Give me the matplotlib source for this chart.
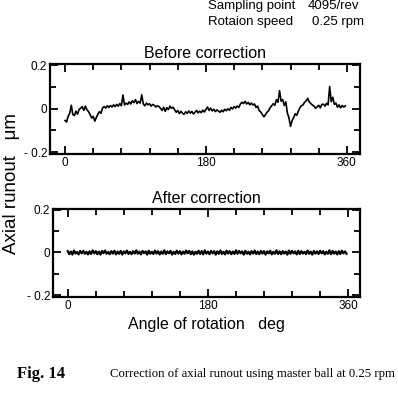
#! /usr/bin/env python3
#
import matplotlib
matplotlib.use('Agg')
import matplotlib.pyplot as plt
import numpy as np
from matplotlib.ticker import FixedLocator

#  Angle of rotation, deg (sampled every 2 deg for the drawing)
angle = np.arange(0, 360, 2)

#  Axial runout before correction, um
runout_before = [
    -0.055, -0.062, -0.035, -0.022, 0.015, -0.028, -0.032, -0.012, -0.026, -0.004,
    0.002, 0.009, -0.008, 0.011, -0.006, -0.014, -0.028, -0.044, -0.036, -0.058,
    -0.041, -0.026, -0.014, -0.022, 0.003, 0.009, 0.002, 0.013, 0.005, 0.014,
    0.007, 0.017, 0.009, 0.019, 0.011, 0.023, 0.013, 0.062, 0.016, 0.025,
    0.019, 0.031, 0.021, 0.036, 0.027, 0.041, 0.023, 0.033, 0.025, 0.063,
    0.021, 0.013, 0.025, 0.017, 0.022, 0.011, 0.019, 0.015, 0.007, 0.013,
    0.009, 0.001, -0.009, 0.006, -0.013, 0.004, -0.005, 0.011, 0.001, 0.006,
    -0.006, -0.017, -0.009, -0.023, -0.013, -0.021, -0.027, -0.015, -0.022, -0.011,
    -0.021, -0.013, -0.025, -0.017, -0.009, -0.020, -0.012, -0.019, -0.007, -0.016,
    -0.004, 0.007, -0.009, 0.002, -0.011, -0.003, -0.014, -0.006, -0.012, -0.017,
    -0.008, -0.015, -0.003, -0.010, -0.001, -0.008, 0.005, -0.002, 0.009, 0.002,
    0.012, 0.005, 0.021, 0.029, 0.023, 0.033, 0.021, 0.028, 0.017, 0.025,
    0.016, 0.021, 0.005, 0.011, -0.009, -0.016, -0.027, -0.038, -0.028, -0.017,
    -0.010, 0.004, 0.013, 0.022, 0.015, 0.041, 0.029, 0.082, 0.034, 0.041,
    0.014, 0.031, -0.021, -0.042, -0.082, -0.056, -0.041, -0.024, -0.031, -0.012,
    0.004, 0.013, 0.017, 0.029, 0.035, 0.047, 0.030, 0.023, 0.016, 0.011,
    0.001, 0.008, 0.015, 0.003, 0.019, 0.020, 0.011, 0.024, 0.017, 0.101,
    0.031, 0.052, 0.019, 0.025, 0.006, 0.017, 0.003, 0.014, 0.007, 0.012,
]

#  Axial runout after correction, um
runout_after = [
    0.006, -0.008, 0.004, -0.010, 0.009, -0.005, 0.002, -0.009, 0.007, -0.004,
    0.008, -0.006, 0.003, -0.009, 0.005, -0.007, 0.010, -0.004, 0.006, -0.008,
    0.004, -0.010, 0.007, -0.003, 0.009, -0.006, 0.002, -0.008, 0.006, -0.005,
    0.008, -0.009, 0.004, -0.006, 0.007, -0.010, 0.005, -0.004, 0.009, -0.007,
    0.003, -0.008, 0.006, -0.005, 0.010, -0.006, 0.004, -0.009, 0.007, -0.003,
    0.005, -0.010, 0.008, -0.006, 0.003, -0.007, 0.009, -0.005, 0.006, -0.009,
    0.004, -0.006, 0.010, -0.008, 0.005, -0.004, 0.007, -0.010, 0.003, -0.007,
    0.008, -0.005, 0.006, -0.009, 0.004, -0.006, 0.009, -0.004, 0.007, -0.008,
    0.005, -0.010, 0.003, -0.006, 0.008, -0.007, 0.006, -0.009, 0.010, -0.005,
    0.004, -0.008, 0.007, -0.004, 0.006, -0.010, 0.005, -0.006, 0.009, -0.007,
    0.003, -0.009, 0.008, -0.005, 0.006, -0.008, 0.004, -0.007, 0.010, -0.006,
    0.007, -0.004, 0.005, -0.010, 0.008, -0.006, 0.003, -0.009, 0.006, -0.005,
    0.009, -0.007, 0.004, -0.008, 0.007, -0.005, 0.006, -0.010, 0.005, -0.004,
    0.008, -0.009, 0.003, -0.006, 0.010, -0.007, 0.005, -0.008, 0.006, -0.005,
    0.004, -0.010, 0.009, -0.006, 0.007, -0.004, 0.005, -0.009, 0.008, -0.007,
    0.006, -0.005, 0.003, -0.008, 0.009, -0.006, 0.004, -0.010, 0.007, -0.005,
    0.005, -0.007, 0.008, -0.004, 0.006, -0.009, 0.003, -0.006, 0.010, -0.008,
    0.007, -0.005, 0.004, -0.009, 0.006, -0.007, 0.008, -0.004, 0.005, -0.006,
]

x_ticks = [0, 180, 360]
x_tick_labels = ['0', '180', '360']
y_ticks = [-0.2, 0, 0.2]
y_tick_labels = ['- 0.2', '0', '0.2']


def style_axes(ax, xlim):
    ax.set_xlim(*xlim)
    ax.set_ylim(-0.209, 0.205)
    ax.xaxis.set_major_locator(FixedLocator(x_ticks))
    ax.xaxis.set_minor_locator(FixedLocator(np.arange(36, 360, 36)))
    ax.yaxis.set_major_locator(FixedLocator(y_ticks))
    ax.yaxis.set_minor_locator(FixedLocator([-0.1, 0.1]))
    ax.set_xticklabels(x_tick_labels)
    ax.set_yticklabels(y_tick_labels)
    ax.tick_params(which='both', direction='in', top=True, right=True,
                   width=1.3, labelsize=8.5, pad=2)
    ax.tick_params(which='major', length=6)
    ax.tick_params(which='minor', length=4)
    for s in ax.spines.values():
        s.set_linewidth(1.6)


plt.rcParams['font.family'] = ['Liberation Sans', 'DejaVu Sans']

fig = plt.figure(figsize=(3.98, 3.97), dpi=100)

ax1 = fig.add_axes([0.126, 0.612, 0.779, 0.227])
ax1.plot(angle, runout_before, color='black', lw=1.2)
style_axes(ax1, (-19, 377))
ax1.set_title('Before correction', fontsize=11.5, pad=4)

ax2 = fig.add_axes([0.133, 0.252, 0.771, 0.222])
ax2.plot(angle, runout_after, color='black', lw=1.6)
style_axes(ax2, (-19, 375))
ax2.set_title('After correction', fontsize=11.5, pad=4)
ax2.set_xlabel('Angle of rotation   deg', fontsize=11.5, labelpad=4)

fig.text(0.03, 0.539, 'Axial runout   \u03bcm', rotation=90, fontsize=13.5,
         ha='center', va='center')

fig.text(0.523, 0.985, 'Sampling point', fontsize=9.5, ha='left', va='center')
fig.text(0.774, 0.985, '4095/rev', fontsize=9.5, ha='left', va='center')
fig.text(0.523, 0.945, 'Rotaion speed', fontsize=9.5, ha='left', va='center')
fig.text(0.784, 0.945, '0.25 rpm', fontsize=9.5, ha='left', va='center')

fig.text(0.043, 0.058, 'Fig. 14', fontsize=12, fontweight='bold', ha='left',
         va='center', family='Liberation Serif')
fig.text(0.277, 0.058, 'Correction of axial runout using master ball at 0.25 rpm',
         fontsize=9.2, ha='left', va='center', family='Liberation Serif')

fig.savefig('out.png', dpi=100)
